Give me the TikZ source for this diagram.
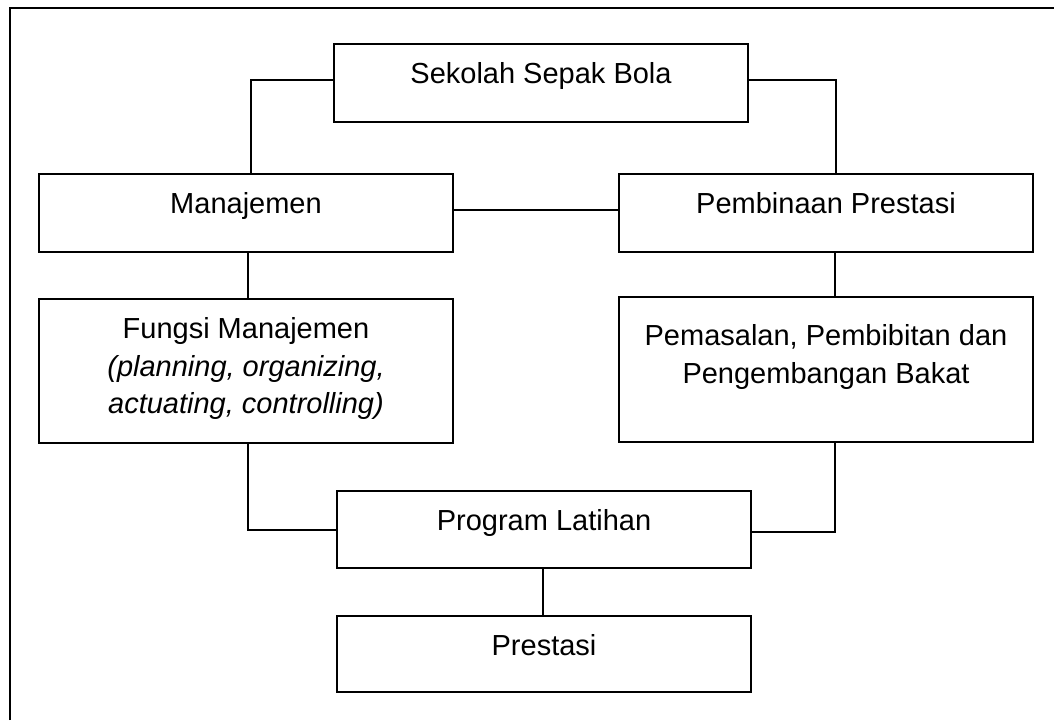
\documentclass[tikz,border=0pt]{standalone}
\usepackage{fontspec}
\setmainfont{Liberation Sans}
\begin{document}
\begin{tikzpicture}[x=1pt,y=-1pt,
  box/.style={draw=black,line width=2pt,rectangle,inner sep=0pt,outer sep=0pt,minimum width=414pt},
  lbl/.style={anchor=base,inner sep=0pt,font=\fontsize{29}{37.5}\selectfont},
  conn/.style={draw=black,line width=2pt}]
\useasboundingbox (0,0) rectangle (1054,720);
% frame
\coordinate (fbl) at (10,720);
\coordinate (ftl) at (10,8);
\coordinate (ftr) at (1054,8);
\draw[line width=2pt] (fbl) -- (ftl) -- (ftr);
% boxes
\node[box,minimum height=78pt] (sek) at (541,83) {};
\node[box,minimum height=78pt] (man) at (246,213) {};
\node[box,minimum height=78pt] (pem) at (826,213) {};
\node[box,minimum height=144pt] (fun) at (246,371) {};
\node[box,minimum height=145pt] (pas) at (826,369.5) {};
\node[box,minimum height=77pt] (prog) at (544,529.5) {};
\node[box,minimum height=76pt] (pres) at (544,654) {};
% labels
\node[lbl] (sekt) at (541,83) {Sekolah Sepak Bola};
\node[lbl] (mant) at (246,213) {Manajemen};
\node[lbl] (pemt) at (826,213) {Pembinaan Prestasi};
\node[lbl] (funt1) at (246,338) {Fungsi Manajemen};
\node[lbl] (funt2) at (246,376) {\itshape (planning, organizing,};
\node[lbl] (funt3) at (246,413.5) {\itshape actuating, controlling)};
\node[lbl] (past1) at (826,345) {Pemasalan, Pembibitan dan};
\node[lbl] (past2) at (826,383) {Pengembangan Bakat};
\node[lbl] (progt) at (544,530) {Program Latihan};
\node[lbl] (prest) at (544,655) {Prestasi};
% connectors
\draw[conn] ([yshift=3pt]sek.west) -| ([xshift=5pt]man.north);
\draw[conn] ([yshift=3pt]sek.east) -| ([xshift=10pt]pem.north);
\draw[conn] ([yshift=3pt]man.east) -- ([yshift=3pt]pem.west);
\draw[conn] ([xshift=2pt]man.south) -- ([xshift=2pt]fun.north);
\draw[conn] ([xshift=9pt]pem.south) -- ([xshift=9pt]pas.north);
\draw[conn] ([xshift=2pt]fun.south) |- (prog.west);
\draw[conn] ([xshift=9pt]pas.south) |- ([yshift=-2pt]prog.east);
\draw[conn] ([xshift=-1pt]prog.south) -- ([xshift=-1pt]pres.north);
\end{tikzpicture}
\end{document}
